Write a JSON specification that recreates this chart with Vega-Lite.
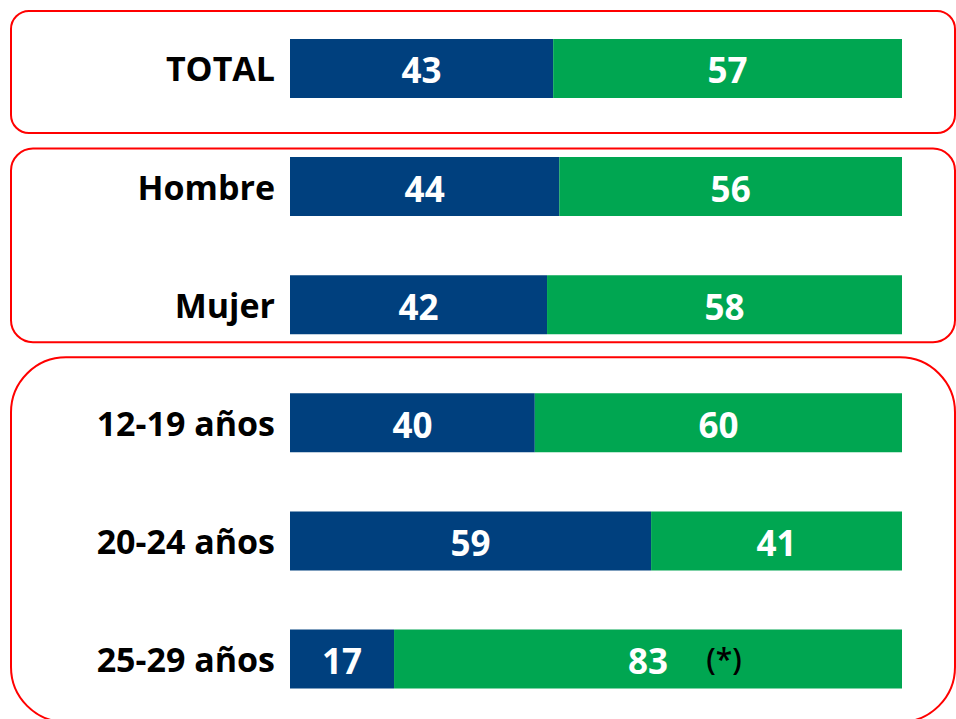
{
  "$schema": "https://vega.github.io/schema/vega-lite/v6.json",
  "width": 612,
  "height": 719,
  "autosize": {"type": "none"},
  "padding": {"left": 290, "right": 54, "top": 0, "bottom": 0},
  "background": "white",
  "config": {"view": {"stroke": null}, "scale": {"continuousPadding": 0}},
  "datasets": {
    "barras": [
      {"categoria": "TOTAL", "orden": 0, "respuesta": "A", "valor": 43, "nota": null},
      {"categoria": "TOTAL", "orden": 0, "respuesta": "B", "valor": 57, "nota": null},
      {"categoria": "Hombre", "orden": 1, "respuesta": "A", "valor": 44, "nota": null},
      {"categoria": "Hombre", "orden": 1, "respuesta": "B", "valor": 56, "nota": null},
      {"categoria": "Mujer", "orden": 2, "respuesta": "A", "valor": 42, "nota": null},
      {"categoria": "Mujer", "orden": 2, "respuesta": "B", "valor": 58, "nota": null},
      {"categoria": "12-19 años", "orden": 3, "respuesta": "A", "valor": 40, "nota": null},
      {"categoria": "12-19 años", "orden": 3, "respuesta": "B", "valor": 60, "nota": null},
      {"categoria": "20-24 años", "orden": 4, "respuesta": "A", "valor": 59, "nota": null},
      {"categoria": "20-24 años", "orden": 4, "respuesta": "B", "valor": 41, "nota": null},
      {"categoria": "25-29 años", "orden": 5, "respuesta": "A", "valor": 17, "nota": null},
      {"categoria": "25-29 años", "orden": 5, "respuesta": "B", "valor": 83, "nota": "(*)"}
    ],
    "grupos": [
      {"grupo": "Total", "desde": 0, "hasta": 0},
      {"grupo": "Sexo", "desde": 1, "hasta": 2},
      {"grupo": "Edad", "desde": 3, "hasta": 5}
    ]
  },
  "layer": [
    {
      "data": {"name": "grupos"},
      "transform": [{"filter": "datum.grupo === 'Total'"}],
      "mark": {"type": "rect", "fill": null, "stroke": "#ff0000", "strokeWidth": 2, "cornerRadius": 18,
               "xOffset": -279, "x2Offset": 53, "yOffset": -57.5, "y2Offset": 64.5},
      "encoding": {
        "x": {"datum": 0, "type": "quantitative", "scale": {"domain": [0, 100], "nice": false, "zero": false, "padding": 0}, "axis": null},
        "x2": {"datum": 100},
        "y": {"field": "desde", "type": "quantitative", "scale": {"domain": [-0.58, 5.508], "reverse": true, "nice": false, "zero": false, "padding": 0}, "axis": null},
        "y2": {"field": "hasta"}
      }
    },
    {
      "data": {"name": "grupos"},
      "transform": [{"filter": "datum.grupo === 'Sexo'"}],
      "mark": {"type": "rect", "fill": null, "stroke": "#ff0000", "strokeWidth": 2, "cornerRadius": 22,
               "xOffset": -279, "x2Offset": 53, "yOffset": -38, "y2Offset": 37.5},
      "encoding": {
        "x": {"datum": 0, "type": "quantitative", "scale": {"domain": [0, 100], "nice": false, "zero": false, "padding": 0}, "axis": null},
        "x2": {"datum": 100},
        "y": {"field": "desde", "type": "quantitative", "scale": {"domain": [-0.58, 5.508], "reverse": true, "nice": false, "zero": false, "padding": 0}, "axis": null},
        "y2": {"field": "hasta"}
      }
    },
    {
      "data": {"name": "grupos"},
      "transform": [{"filter": "datum.grupo === 'Edad'"}],
      "mark": {"type": "rect", "fill": null, "stroke": "#ff0000", "strokeWidth": 2, "cornerRadius": 55,
               "xOffset": -279, "x2Offset": 53, "yOffset": -65.5, "y2Offset": 63},
      "encoding": {
        "x": {"datum": 0, "type": "quantitative", "scale": {"domain": [0, 100], "nice": false, "zero": false, "padding": 0}, "axis": null},
        "x2": {"datum": 100},
        "y": {"field": "desde", "type": "quantitative", "scale": {"domain": [-0.58, 5.508], "reverse": true, "nice": false, "zero": false, "padding": 0}, "axis": null},
        "y2": {"field": "hasta"}
      }
    },
    {
      "data": {"name": "barras"},
      "transform": [
        {"stack": "valor", "groupby": ["categoria"], "sort": [{"field": "respuesta", "order": "ascending"}], "as": ["v0", "v1"]},
        {"calculate": "(datum.v0 + datum.v1) / 2", "as": "medio"}
      ],
      "layer": [
        {
          "mark": {"type": "bar", "orient": "horizontal", "size": 59},
          "encoding": {
            "x": {"field": "v0", "type": "quantitative", "scale": {"domain": [0, 100], "nice": false, "zero": false, "padding": 0}, "axis": null},
            "x2": {"field": "v1"},
            "y": {"field": "orden", "type": "quantitative", "scale": {"domain": [-0.58, 5.508], "reverse": true, "nice": false, "zero": false, "padding": 0}, "axis": null},
            "color": {"field": "respuesta", "type": "nominal", "scale": {"domain": ["A", "B"], "range": ["#00407e", "#00a651"]}, "legend": null}
          }
        },
        {
          "mark": {"type": "text", "color": "white", "font": "Open Sans", "fontWeight": "bold", "fontSize": 35, "baseline": "middle", "align": "center", "dy": 4},
          "encoding": {
            "x": {"field": "medio", "type": "quantitative", "scale": {"domain": [0, 100], "nice": false, "zero": false, "padding": 0}, "axis": null},
            "y": {"field": "orden", "type": "quantitative", "scale": {"domain": [-0.58, 5.508], "reverse": true, "nice": false, "zero": false, "padding": 0}, "axis": null},
            "text": {"field": "valor", "type": "quantitative"}
          }
        },
        {
          "transform": [{"filter": "datum.nota != null"}],
          "mark": {"type": "text", "color": "black", "font": "Open Sans", "fontWeight": 600, "fontSize": 30, "baseline": "middle", "align": "center", "dx": 76, "dy": 2},
          "encoding": {
            "x": {"field": "medio", "type": "quantitative", "scale": {"domain": [0, 100], "nice": false, "zero": false, "padding": 0}, "axis": null},
            "y": {"field": "orden", "type": "quantitative", "scale": {"domain": [-0.58, 5.508], "reverse": true, "nice": false, "zero": false, "padding": 0}, "axis": null},
            "text": {"field": "nota", "type": "nominal"}
          }
        },
        {
          "transform": [{"filter": "datum.respuesta === 'A'"}],
          "mark": {"type": "text", "color": "black", "font": "Open Sans", "fontWeight": "bold", "fontSize": 34, "baseline": "middle", "align": "right", "dx": -15, "dy": 3},
          "encoding": {
            "x": {"datum": 0, "type": "quantitative", "scale": {"domain": [0, 100], "nice": false, "zero": false, "padding": 0}, "axis": null},
            "y": {"field": "orden", "type": "quantitative", "scale": {"domain": [-0.58, 5.508], "reverse": true, "nice": false, "zero": false, "padding": 0}, "axis": null},
            "text": {"field": "categoria", "type": "nominal"}
          }
        }
      ]
    }
  ]
}
